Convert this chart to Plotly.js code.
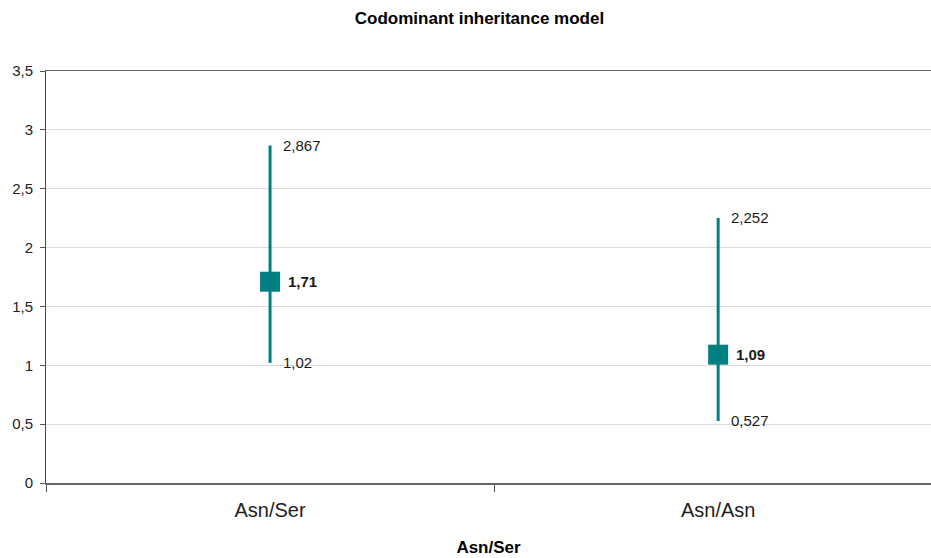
<!DOCTYPE html>
<html>
<head>
<meta charset="utf-8">
<script src="https://cdn.plot.ly/plotly-3.0.1.min.js"></script>
<style>html,body{margin:0;padding:0;background:#fff;}#chart{width:931px;height:558px;}</style>
</head>
<body>
<div id="chart"></div>
<script>
const categories = ["Asn/Ser", "Asn/Asn"];
const oddsRatio = [1.71, 1.09];
const lowerCI = [1.02, 0.527];
const upperCI = [2.867, 2.252];
const yTickVals = [0, 0.5, 1, 1.5, 2, 2.5, 3, 3.5];

const fmt = v => String(v).replace('.', ',');
const teal = '#008080';
const FONT = 'Liberation Sans';

const trace = {
  type: 'scatter',
  mode: 'markers',
  x: categories,
  y: oddsRatio,
  marker: {symbol: 'square', size: 20, color: teal},
  error_y: {
    type: 'data',
    symmetric: false,
    array: upperCI.map((u, i) => u - oddsRatio[i]),
    arrayminus: lowerCI.map((l, i) => oddsRatio[i] - l),
    color: teal,
    thickness: 3,
    width: 0
  },
  hoverinfo: 'skip',
  showlegend: false
};

const annotations = [];
categories.forEach((c, i) => {
  annotations.push({x: c, y: upperCI[i], text: fmt(upperCI[i]), showarrow: false, xanchor: 'left', yanchor: 'middle', xshift: 11, font: {family: FONT, size: 15, color: '#1a1a1a'}});
  annotations.push({x: c, y: lowerCI[i], text: fmt(lowerCI[i]), showarrow: false, xanchor: 'left', yanchor: 'middle', xshift: 11, font: {family: FONT, size: 15, color: '#1a1a1a'}});
  annotations.push({x: c, y: oddsRatio[i], text: '<b>' + fmt(oddsRatio[i]) + '</b>', showarrow: false, xanchor: 'left', yanchor: 'middle', xshift: 16, font: {family: FONT, size: 15, color: '#1a1a1a'}});
});

const layout = {
  width: 931, height: 558,
  margin: {l: 46, r: 0, t: 71, b: 75},
  paper_bgcolor: '#fff', plot_bgcolor: '#fff',
  separators: ',.',
  font: {family: FONT, color: '#1a1a1a'},
  title: {text: '<b>Codominant inheritance model</b>', x: 0.515, xanchor: 'center', y: 0.968, yanchor: 'middle', font: {family: FONT, size: 17, color: '#000'}},
  xaxis: {
    type: 'category',
    range: [-0.5, 1.475],
    tickson: 'boundaries',
    ticks: 'outside', ticklen: 7, tickcolor: '#555', tickwidth: 1,
    showline: true, linecolor: '#666', linewidth: 1.5, mirror: true,
    showgrid: false,
    tickfont: {family: FONT, size: 20, color: '#222'},
    ticklabelstandoff: 8,
    title: {text: '<b>Asn/Ser</b>', font: {family: FONT, size: 17, color: '#000'}, standoff: 21}
  },
  yaxis: {
    range: [0, 3.5],
    tickvals: yTickVals,
    ticktext: yTickVals.map(fmt),
    ticks: 'outside', ticklen: 5, tickcolor: '#555',
    showline: true, linecolor: '#444', linewidth: 1,
    gridcolor: '#dcdcdc', gridwidth: 1,
    zeroline: false,
    tickfont: {family: FONT, size: 15, color: '#222'},
    ticklabelstandoff: 4
  },
  annotations: annotations
};

Plotly.newPlot('chart', [trace], layout, {displayModeBar: false, staticPlot: true});
</script>
</body>
</html>
